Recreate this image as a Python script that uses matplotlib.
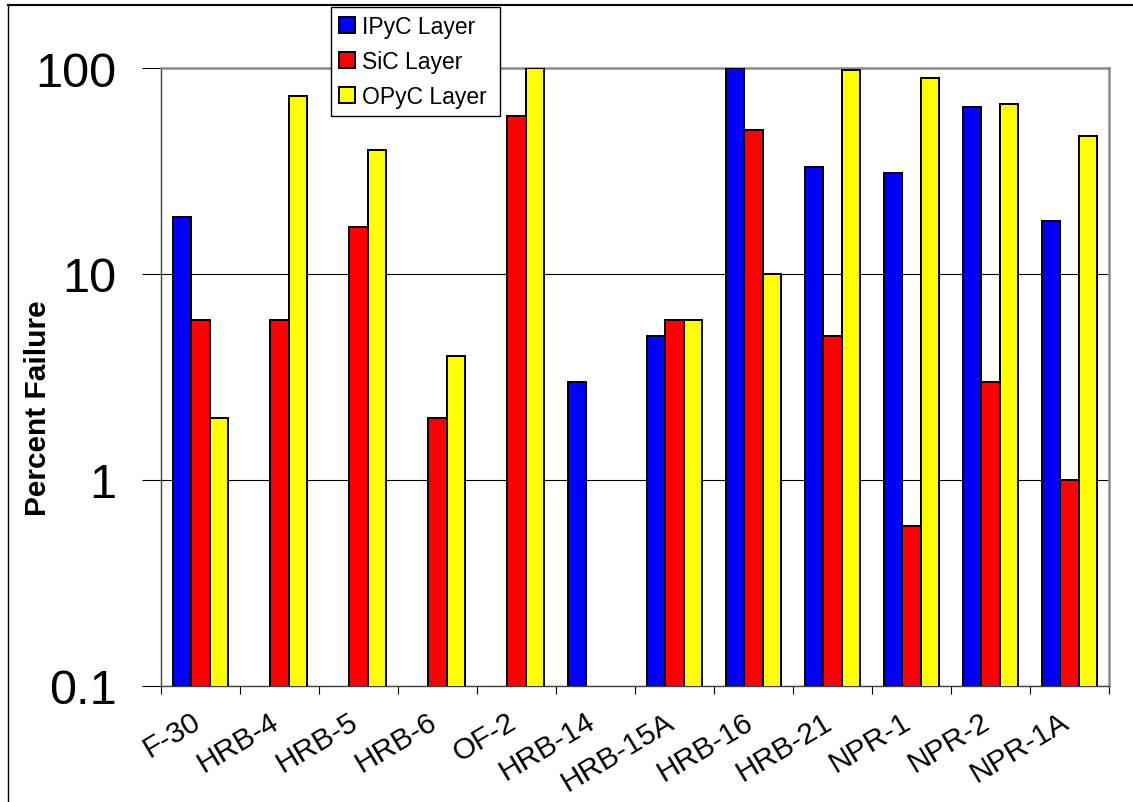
import matplotlib
matplotlib.use('Agg')
import matplotlib.pyplot as plt
import matplotlib.transforms as mtrans
from matplotlib.lines import Line2D
import numpy as np

plt.rcParams['font.family'] = ['Liberation Sans', 'DejaVu Sans']

# data (nan = no bar)
experiments = ['F-30', 'HRB-4', 'HRB-5', 'HRB-6', 'OF-2', 'HRB-14',
               'HRB-15A', 'HRB-16', 'HRB-21', 'NPR-1', 'NPR-2', 'NPR-1A']
ipyc_fail = [19, np.nan, np.nan, np.nan, np.nan, 3, 5, 100, 33, 31, 65, 18]
sic_fail  = [6, 6, 17, 2, 58.5, np.nan, 6, 50, 5, 0.6, 3, 1]
opyc_fail = [2, 73, 40, 4, 100, np.nan, 6, 10, 98, 89, 67, 47]

series = [('IPyC Layer', ipyc_fail, '#0000FF'),
          ('SiC Layer', sic_fail, '#FF0000'),
          ('OPyC Layer', opyc_fail, '#FFFF00')]

fig = plt.figure(figsize=(11.33, 8.03), dpi=100)
ax = fig.add_axes([161/1133, 1-687/803, 948/1133, 618/803])

x = np.arange(len(experiments))
w = 0.234
for i, (name, vals, col) in enumerate(series):
    ax.bar(x + (i-1)*w, np.array(vals, dtype=float), width=w, color=col,
           edgecolor='black', linewidth=1.4, label=name, zorder=3)

ax.set_yscale('log')
ax.set_ylim(0.1, 100)
ax.set_xlim(-0.5, len(experiments)-0.5)

ax.set_yticks([0.1, 1, 10, 100])
ax.set_yticklabels(['0.1', '1', '10', '100'], fontsize=35)
ax.yaxis.set_minor_locator(matplotlib.ticker.NullLocator())
ax.tick_params(axis='y', which='major', direction='out', length=13.5, width=0.8, pad=18.5)

# labels at group centres, tick marks at group boundaries
ax.set_xticks(x)
ax.set_xticklabels(experiments, fontsize=21.5, rotation=31, ha='right', va='top',
                   rotation_mode='anchor')
ax.set_xticks(np.arange(-0.5, len(experiments)), minor=True)
ax.tick_params(axis='x', which='major', length=0, pad=15)
ax.tick_params(axis='x', which='minor', direction='out', length=6, width=0.8)
shift = mtrans.ScaledTranslation(-10/100, 0, fig.dpi_scale_trans)
for lab in ax.get_xticklabels():
    lab.set_transform(lab.get_transform() + shift)

ax.yaxis.grid(True, which='major', color='black', linewidth=0.8, zorder=0)
ax.set_axisbelow(True)

for s in ['left', 'bottom']:
    ax.spines[s].set_color('#404040')
    ax.spines[s].set_linewidth(1.0)
for s in ['top', 'right']:
    ax.spines[s].set_color('#8c8c8c')
    ax.spines[s].set_linewidth(1.8)

ax.set_ylabel('Percent Failure', fontsize=21.5, fontweight='bold')
ax.yaxis.set_label_coords(-0.115, 0.451)

leg = ax.legend(loc='upper left', bbox_to_anchor=(331/1133, 1-117/803, 169/1133, 109/803),
                bbox_transform=fig.transFigure, mode='expand', borderaxespad=0,
                fontsize=16.5, handlelength=0.7, handleheight=0.7, handletextpad=0.3,
                labelspacing=0.52, borderpad=0.36, fancybox=False, framealpha=1)
leg.get_frame().set_edgecolor('black')
leg.get_frame().set_linewidth(1.0)
leg.set_zorder(10)

# outer chart border (only top and left visible in the reference)
fig.add_artist(Line2D([8/1133, 1], [1-6/803, 1-6/803], color='black', lw=1.5,
                      transform=fig.transFigure))
fig.add_artist(Line2D([8/1133, 8/1133], [0, 1-6/803], color='black', lw=1.0,
                      transform=fig.transFigure))

fig.savefig('out.png', dpi=100)
